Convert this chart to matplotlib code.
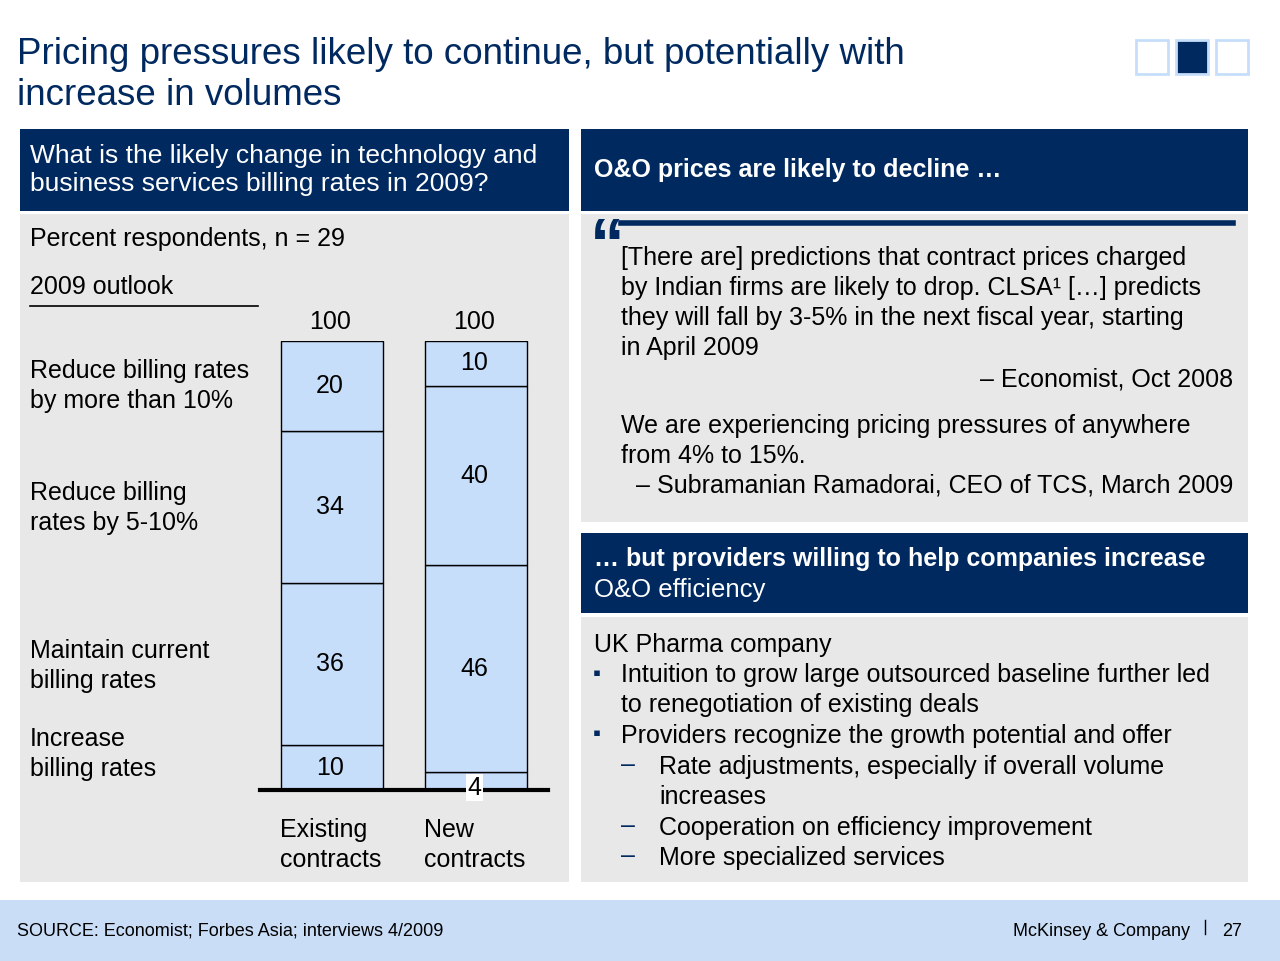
import matplotlib.pyplot as plt
from matplotlib.patches import Rectangle

plt.rcParams['font.family'] = ['Liberation Sans', 'DejaVu Sans']

NAVY = '#002960'
GRIS = '#E8E8E8'
AZUL_BARRA = '#C6DEFA'
AZUL_PIE = '#C9DDF7'

categorias = ['Existing\ncontracts', 'New\ncontracts']
segmentos = ['Increase\nbilling rates', 'Maintain current\nbilling rates',
             'Reduce billing\nrates by 5-10%', 'Reduce billing rates\nby more than 10%']
existentes = [10, 36, 34, 20]
nuevos = [4, 46, 40, 10]
totales = [100, 100]

FS = 18
LS = 1.33

fig = plt.figure(figsize=(12.8, 9.61), dpi=100)
ax = fig.add_axes([0, 0, 1, 1])
ax.set_xlim(0, 1280)
ax.set_ylim(961, 0)
ax.axis('off')

def caja(x, y, w, h, color):
    ax.add_patch(Rectangle((x, y), w, h, facecolor=color, edgecolor='none'))

def texto(x, y, s, **kw):
    kw.setdefault('fontsize', FS)
    kw.setdefault('va', 'center')
    kw.setdefault('linespacing', LS)
    ax.text(x, y, s, **kw)

# titulo
texto(17, 75, 'Pricing pressures likely to continue, but potentially with\nincrease in volumes',
      fontsize=26.5, color=NAVY, linespacing=1.2)
for i, x in enumerate([1136, 1176, 1216]):
    ax.add_patch(Rectangle((x, 40), 32, 34, facecolor=NAVY if i == 1 else 'white',
                           edgecolor='#C6DEFA', lw=2))

# panel izquierdo
caja(20, 129, 549, 82, NAVY)
texto(30, 170, 'What is the likely change in technology and\nbusiness services billing rates in 2009?',
      color='white', fontsize=19, linespacing=1.25)
caja(20, 214, 549, 668, GRIS)
texto(30, 239, 'Percent respondents, n = 29')
texto(30, 287, '2009 outlook')
ax.plot([30, 258], [306, 306], color='black', lw=1.2)
for s, y in zip(segmentos, [754, 666, 508, 386]):
    texto(30, y, s)

# panel derecho superior
caja(581, 129, 667, 82, NAVY)
texto(594, 170, 'O&O prices are likely to decline \u2026', color='white', fontsize=18, weight='bold')
caja(581, 214, 667, 308, GRIS)
ax.plot([621, 1233], [223, 223], color=NAVY, lw=4)
texto(590, 248, '\u201c', fontsize=50, color=NAVY, weight='bold')
texto(621, 303, '[There are] predictions that contract prices charged\nby Indian firms are likely to drop. CLSA\u00b9 [\u2026] predicts\nthey will fall by 3-5% in the next fiscal year, starting\nin April 2009')
texto(1233, 379, '\u2013 Economist, Oct 2008', ha='right')
texto(621, 441, 'We are experiencing pricing pressures of anywhere\nfrom 4% to 15%.')
texto(1233, 486, '\u2013 Subramanian Ramadorai, CEO of TCS, March 2009', ha='right')

# panel derecho inferior
caja(581, 533, 667, 80, NAVY)
texto(594, 559, '\u2026 but providers willing to help companies increase', color='white', fontsize=18, weight='bold')
texto(594, 590, 'O&O efficiency', color='white', fontsize=18.5)
caja(581, 617, 667, 265, GRIS)
texto(594, 645, 'UK Pharma company')
texto(593, 674, '\u25aa', color=NAVY, fontsize=16)
texto(621, 690, 'Intuition to grow large outsourced baseline further led\nto renegotiation of existing deals')
texto(593, 734, '\u25aa', color=NAVY, fontsize=16)
texto(621, 736, 'Providers recognize the growth potential and offer')
for y in [765, 826, 856]:
    texto(621, y, '\u2013', color=NAVY)
texto(659, 782, 'Rate adjustments, especially if overall volume\nincreases')
texto(659, 828, 'Cooperation on efficiency improvement')
texto(659, 858, 'More specialized services')

# pie
caja(0, 900, 1280, 61, AZUL_PIE)
texto(17, 931, 'SOURCE: Economist; Forbes Asia; interviews 4/2009', fontsize=13)
texto(1190, 931, 'McKinsey & Company', fontsize=13, ha='right')
ax.plot([1205, 1205], [920, 934], color='black', lw=1)
texto(1222, 931, '27', fontsize=13)

# grafico de barras apiladas
bx = fig.add_axes([260 / 1280, 1 - 790 / 961, 288 / 1280, 449 / 961])
bx.set_xlim(260, 548)
bx.set_ylim(0, 100)
bx.axis('off')
posiciones = [332, 476]
for pos, valores, total in zip(posiciones, [existentes, nuevos], totales):
    abajo = 0
    for v in valores:
        bx.bar(pos, v, bottom=abajo, width=102, color=AZUL_BARRA, edgecolor='black', lw=1)
        if v >= 10:
            bx.text(pos - 2, abajo + v / 2, str(v), ha='center', va='center', fontsize=FS)
        else:
            bx.text(pos - 2, abajo + v / 2 - 1.5, str(v), ha='center', va='center', fontsize=FS,
                    bbox=dict(facecolor='white', edgecolor='none', pad=1))
        abajo += v
    bx.text(pos - 2, total + 1.5, str(total), ha='center', va='bottom', fontsize=FS, clip_on=False)
bx.plot([260, 548], [0, 0], color='black', lw=3, clip_on=False)
for pos, c in zip(posiciones, categorias):
    bx.text(pos - 52, -6.2, c, ha='left', va='top', fontsize=FS, linespacing=LS, clip_on=False)

fig.savefig('out.png', dpi=100)
